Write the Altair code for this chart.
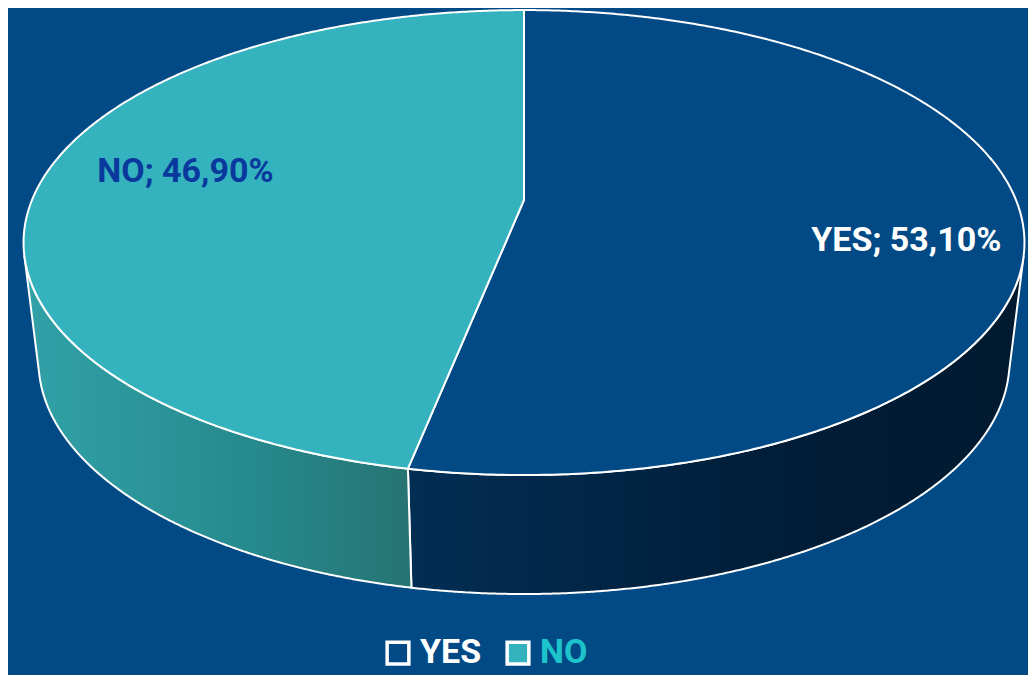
import numpy as np
import pandas as pd
import altair as alt

# ---- data ----
categories = ["YES", "NO"]
shares = [53.10, 46.90]
label_texts = ["YES; 53,10%", "NO; 46,90%"]

# ---- style / geometry constants ----
BG = "#024a86"
TOP_COLORS = ["#024a86", "#34b3be"]
CX, CY, SX, KY, PERSP = 524.0, 200.0, 492.0, 224.7, 0.183
DEPTH, BSCALE = 119.0, 0.97
LABEL_R = [0.77, 0.70]
LABEL_SHIFT = [24.0, -13.0]


def top_pt(theta, r=1.0):
    X = r * np.sin(theta)
    Z = r * np.cos(theta)
    d = 1 + PERSP * Z
    return CX + SX * X / d, CY - KY * Z / d


def bot_pt(theta):
    x, y = top_pt(theta)
    return CX + (x - CX) * BSCALE, y + DEPTH


def tangent_angle(lo, hi):
    th = np.linspace(lo, hi, 4000)
    eps = 1e-4
    x1, y1 = top_pt(th - eps)
    x2, y2 = top_pt(th + eps)
    tx, ty = x2 - x1, y2 - y1
    xt, yt = top_pt(th)
    xb, yb = bot_pt(th)
    gx, gy = xb - xt, yb - yt
    cr = gx * ty - gy * tx
    idx = np.where(np.sign(cr[:-1]) != np.sign(cr[1:]))[0]
    return th[idx[0]] if len(idx) else (lo + hi) / 2


total = sum(shares)
bounds = np.cumsum([0] + shares) / total * 2 * np.pi  # clockwise from top
th_split = bounds[1]
th_right = tangent_angle(np.radians(50), np.radians(170))
th_left = tangent_angle(np.radians(200), np.radians(320))

rows = []


def add_poly(name, cat, part, xs, ys):
    xs = list(xs) + [xs[0]]
    ys = list(ys) + [ys[0]]
    for i, (x, y) in enumerate(zip(xs, ys)):
        rows.append(dict(poly=name, cat=cat, part=part, i=i, x=x, y=y))


# top faces
for k, cat in enumerate(categories):
    th = np.linspace(bounds[k], bounds[k + 1], 400)
    ax, ay = top_pt(th)
    add_poly("top_" + cat, cat, "top", [CX] + list(ax), [CY] + list(ay))

# side faces (visible front)
side_ranges = {"YES": (th_right, th_split), "NO": (th_split, th_left)}
for cat, (a, b) in side_ranges.items():
    th = np.linspace(a, b, 400)
    tx_, ty_ = top_pt(th)
    bx_, by_ = bot_pt(th[::-1])
    add_poly("side_" + cat, cat, "side", list(tx_) + list(bx_), list(ty_) + list(by_))

df = pd.DataFrame(rows)

lab_rows = []
for k, cat in enumerate(categories):
    mid = (bounds[k] + bounds[k + 1]) / 2
    lx, ly = top_pt(mid, LABEL_R[k])
    lab_rows.append(dict(cat=cat, text=label_texts[k], x=lx, y=ly + LABEL_SHIFT[k]))
labels = pd.DataFrame(lab_rows)

X = alt.X("x:Q", scale=alt.Scale(domain=[8, 1028], nice=False, zero=False), axis=None)
Y = alt.Y("y:Q", scale=alt.Scale(domain=[8, 675], reverse=True, nice=False, zero=False), axis=None)

base = alt.Chart(df)

side_yes = base.transform_filter("datum.poly == 'side_YES'").mark_line(
    fill=alt.Gradient(gradient="linear", x1=0, x2=1, y1=0, y2=0,
                      stops=[alt.GradientStop(color="#022e54", offset=0),
                             alt.GradientStop(color="#011c36", offset=0.65),
                             alt.GradientStop(color="#011a30", offset=1)]),
    stroke="white", strokeWidth=2, strokeJoin="round"
).encode(x=X, y=Y, order="i:Q")

side_no = base.transform_filter("datum.poly == 'side_NO'").mark_line(
    fill=alt.Gradient(gradient="linear", x1=0, x2=1, y1=0, y2=0,
                      stops=[alt.GradientStop(color="#31a2a8", offset=0),
                             alt.GradientStop(color="#26898c", offset=0.6),
                             alt.GradientStop(color="#267373", offset=1)]),
    stroke="white", strokeWidth=2, strokeJoin="round"
).encode(x=X, y=Y, order="i:Q")

top = base.transform_filter("datum.part == 'top'").mark_line(
    filled=True, stroke="white", strokeWidth=2, strokeJoin="round", opacity=1
).encode(
    x=X, y=Y, order="i:Q", detail="poly:N",
    color=alt.Color(
        "cat:N",
        scale=alt.Scale(domain=categories, range=TOP_COLORS),
        legend=alt.Legend(
            title=None, orient="none", legendX=373, legendY=628,
            direction="horizontal", symbolType="square", symbolSize=470,
            symbolStrokeColor="white", symbolStrokeWidth=3.5, symbolOpacity=1,
            labelFont="Roboto", labelFontWeight="bold", labelFontSize=34,
            labelColor={"expr": "datum.label == 'NO' ? '#1ec4cc' : '#ffffff'"},
            columnPadding=18, labelOffset=5,
        ),
    ),
)

lab_base = alt.Chart(labels)
lab_yes = lab_base.transform_filter("datum.cat == 'YES'").mark_text(
    font="Roboto", fontWeight="bold", fontSize=34, color="white",
    align="center", baseline="middle"
).encode(x=X, y=Y, text="text:N")
lab_no = lab_base.transform_filter("datum.cat == 'NO'").mark_text(
    font="Roboto", fontWeight="bold", fontSize=34, color="#0a399e",
    align="center", baseline="middle"
).encode(x=X, y=Y, text="text:N")

chart = alt.layer(side_yes, side_no, top, lab_yes, lab_no).properties(
    width=1020, height=667, padding=0, autosize=alt.AutoSizeParams(type="none"),
    background=BG,
).configure_view(strokeWidth=0)

chart.save("out.html", embed_options={"renderer": "svg", "actions": False})
